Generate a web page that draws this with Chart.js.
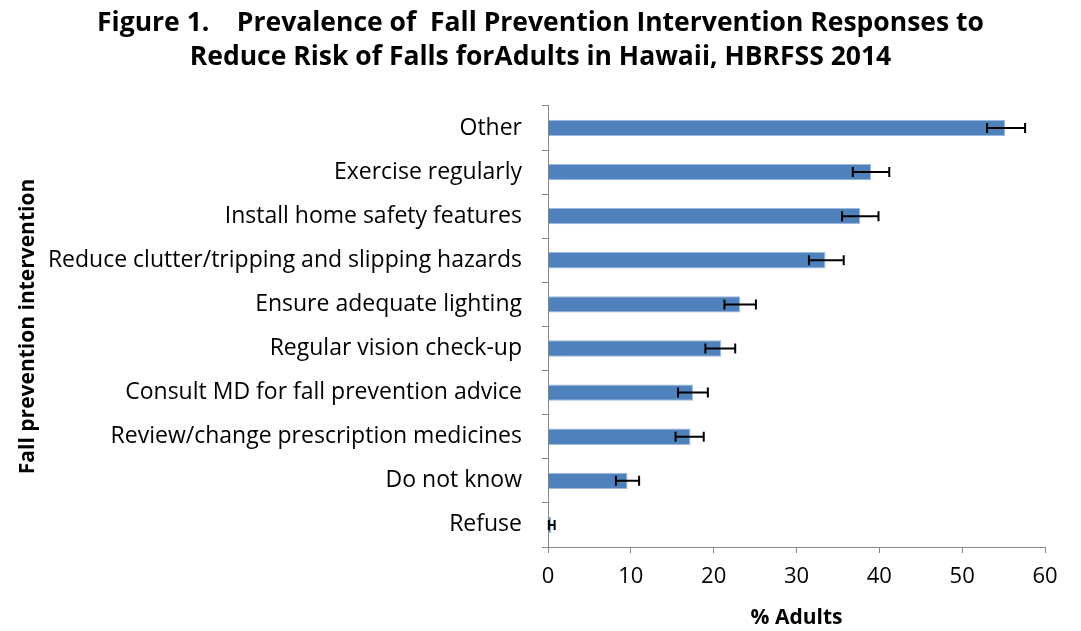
<!DOCTYPE html>
<html>
<head>
<meta charset="utf-8">
<script src="https://cdn.jsdelivr.net/npm/chart.js@4/dist/chart.umd.min.js"></script>
<style>
  html, body { margin: 0; padding: 0; background: #fff; }
  #wrap { width: 1081px; height: 631px; position: relative; }
</style>
</head>
<body>
<div id="wrap"><canvas id="chart"></canvas></div>
<script>
const categories = [
  "Other",
  "Exercise regularly",
  "Install home safety features",
  "Reduce clutter/tripping and slipping hazards",
  "Ensure adequate lighting",
  "Regular vision check-up",
  "Consult MD for fall prevention advice",
  "Review/change prescription medicines",
  "Do not know",
  "Refuse",
];
const prevalence = [55.2, 39.0, 37.7, 33.5, 23.2, 20.9, 17.5, 17.2, 9.6, 0.4];
const ciLow = [53.0, 36.8, 35.5, 31.5, 21.3, 19.0, 15.7, 15.4, 8.2, 0.1];
const ciHigh = [57.6, 41.2, 39.9, 35.7, 25.1, 22.6, 19.3, 18.8, 11.0, 0.8];
const xTicks = [0, 10, 20, 30, 40, 50, 60];

const FONT = "'Open Sans', 'Noto Sans', sans-serif";
const AXIS_GREY = "#868686";
const yTitle = "Fall prevention intervention";

// draws the black confidence-interval whiskers on top of the bars
const errorBars = {
  id: "errorBars",
  afterDatasetsDraw(chart) {
    const { ctx, scales } = chart;
    const meta = chart.getDatasetMeta(0);
    ctx.save();
    ctx.strokeStyle = "#000";
    ctx.lineWidth = 2;
    meta.data.forEach((bar, i) => {
      const y = bar.y;
      const x1 = scales.x.getPixelForValue(ciLow[i]);
      const x2 = scales.x.getPixelForValue(ciHigh[i]);
      ctx.beginPath();
      ctx.moveTo(x1, y);
      ctx.lineTo(x2, y);
      ctx.moveTo(x1, y - 5);
      ctx.lineTo(x1, y + 5);
      ctx.moveTo(x2, y - 5);
      ctx.lineTo(x2, y + 5);
      ctx.stroke();
    });
    ctx.restore();
  },
};

// y title drawn by hand so it sits at the far left like the original
const sideTitle = {
  id: "sideTitle",
  afterDraw(chart) {
    const { ctx, chartArea } = chart;
    ctx.save();
    ctx.translate(28, (chartArea.top + chartArea.bottom) / 2);
    ctx.rotate(-Math.PI / 2);
    ctx.fillStyle = "#000";
    ctx.font = "bold 21px " + FONT;
    ctx.textAlign = "center";
    ctx.textBaseline = "middle";
    ctx.fillText(yTitle, 0, 0);
    ctx.restore();
  },
};

new Chart(document.getElementById("chart"), {
  type: "bar",
  data: {
    labels: categories,
    datasets: [
      {
        label: "% Adults",
        data: prevalence,
        backgroundColor: "#4F81BD",
        borderColor: "#9DB9DC",
        borderWidth: 1,
        barPercentage: 0.37,
        categoryPercentage: 1.0,
      },
    ],
  },
  plugins: [errorBars, sideTitle],
  options: {
    indexAxis: "y",
    responsive: true,
    maintainAspectRatio: false,
    animation: false,
    // equal side padding keeps the title centred on the page
    layout: { padding: { left: 36, right: 36, top: 0, bottom: 0 } },
    plugins: {
      legend: { display: false },
      tooltip: { enabled: false },
      title: {
        display: true,
        text: [
          "Figure 1.    Prevalence of  Fall Prevention Intervention Responses to",
          "Reduce Risk of Falls forAdults in Hawaii, HBRFSS 2014",
        ],
        color: "#000",
        font: { family: FONT, size: 26.5, weight: "bold", lineHeight: 1.3 },
        padding: { top: 6, bottom: 31 },
      },
    },
    scales: {
      x: {
        min: 0,
        max: 60,
        afterBuildTicks: (scale) => {
          scale.ticks = xTicks.map((v) => ({ value: v }));
        },
        afterFit: (scale) => {
          scale.height = 84;
        },
        ticks: {
          color: "#000",
          font: { family: FONT, size: 22 },
          padding: 11,
        },
        grid: {
          drawOnChartArea: false,
          drawTicks: true,
          tickLength: 6,
          color: AXIS_GREY,
        },
        border: { display: true, color: AXIS_GREY, width: 1 },
        title: {
          display: true,
          text: "% Adults",
          color: "#000",
          font: { family: FONT, size: 21, weight: "bold" },
          padding: { top: 4, bottom: 0 },
        },
      },
      y: {
        afterFit: (scale) => {
          scale.width = 512;
        },
        ticks: {
          color: "#000",
          font: { family: FONT, size: 23 },
          padding: 20,
        },
        grid: {
          offset: true,
          drawOnChartArea: false,
          drawTicks: true,
          tickLength: 6,
          color: AXIS_GREY,
        },
        border: { display: true, color: AXIS_GREY, width: 1 },
      },
    },
  },
});
</script>
</body>
</html>
